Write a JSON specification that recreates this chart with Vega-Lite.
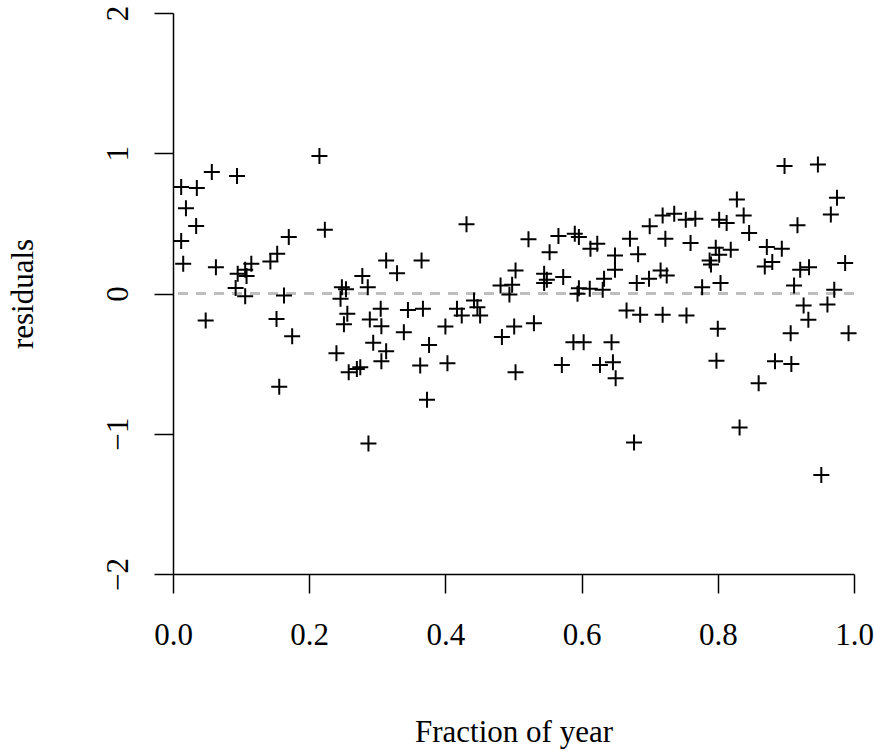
{
  "$schema": "https://vega.github.io/schema/vega-lite/v6.json",
  "width": 681,
  "height": 561,
  "autosize": {"type": "none"},
  "padding": {"left": 173, "top": 13, "right": 20, "bottom": 177},
  "background": "white",
  "config": {
    "view": {"stroke": null},
    "axis": {
      "grid": false,
      "domainColor": "black",
      "domainWidth": 1.5,
      "tickColor": "black",
      "tickWidth": 1.5,
      "tickSize": 19,
      "labelFont": "Liberation Serif",
      "labelFontSize": 31,
      "labelColor": "black",
      "titleFont": "Liberation Serif",
      "titleFontSize": 31,
      "titleFontWeight": "normal",
      "titleColor": "black"
    }
  },
  "data": {
    "values": [
      {"frac": 0.215, "res": 0.98}, {"frac": 0.057, "res": 0.867}, {"frac": 0.094, "res": 0.838},
      {"frac": 0.012, "res": 0.76}, {"frac": 0.035, "res": 0.752}, {"frac": 0.019, "res": 0.607},
      {"frac": 0.034, "res": 0.481}, {"frac": 0.223, "res": 0.455}, {"frac": 0.012, "res": 0.374},
      {"frac": 0.170, "res": 0.402}, {"frac": 0.153, "res": 0.283}, {"frac": 0.143, "res": 0.229},
      {"frac": 0.015, "res": 0.212}, {"frac": 0.063, "res": 0.188}, {"frac": 0.115, "res": 0.212},
      {"frac": 0.095, "res": 0.14}, {"frac": 0.108, "res": 0.124}, {"frac": 0.106, "res": 0.169},
      {"frac": 0.092, "res": 0.04}, {"frac": 0.106, "res": -0.019}, {"frac": 0.163, "res": -0.014},
      {"frac": 0.248, "res": 0.045}, {"frac": 0.246, "res": -0.038}, {"frac": 0.254, "res": 0.03},
      {"frac": 0.048, "res": -0.193}, {"frac": 0.152, "res": -0.181}, {"frac": 0.256, "res": -0.145},
      {"frac": 0.251, "res": -0.219}, {"frac": 0.175, "res": -0.305}, {"frac": 0.240, "res": -0.426},
      {"frac": 0.258, "res": -0.562}, {"frac": 0.156, "res": -0.664}, {"frac": 0.431, "res": 0.493},
      {"frac": 0.313, "res": 0.236}, {"frac": 0.365, "res": 0.236}, {"frac": 0.329, "res": 0.145},
      {"frac": 0.278, "res": 0.124}, {"frac": 0.286, "res": 0.045}, {"frac": 0.503, "res": 0.164},
      {"frac": 0.481, "res": 0.057}, {"frac": 0.498, "res": 0.062}, {"frac": 0.494, "res": -0.008},
      {"frac": 0.442, "res": -0.05}, {"frac": 0.417, "res": -0.109}, {"frac": 0.447, "res": -0.098},
      {"frac": 0.424, "res": -0.157}, {"frac": 0.451, "res": -0.157}, {"frac": 0.305, "res": -0.109},
      {"frac": 0.345, "res": -0.117}, {"frac": 0.367, "res": -0.109}, {"frac": 0.289, "res": -0.186},
      {"frac": 0.306, "res": -0.233}, {"frac": 0.339, "res": -0.276}, {"frac": 0.400, "res": -0.236},
      {"frac": 0.501, "res": -0.236}, {"frac": 0.483, "res": -0.31}, {"frac": 0.294, "res": -0.352},
      {"frac": 0.313, "res": -0.412}, {"frac": 0.376, "res": -0.367}, {"frac": 0.306, "res": -0.483},
      {"frac": 0.363, "res": -0.514}, {"frac": 0.403, "res": -0.498}, {"frac": 0.270, "res": -0.538},
      {"frac": 0.275, "res": -0.526}, {"frac": 0.503, "res": -0.562}, {"frac": 0.373, "res": -0.757},
      {"frac": 0.287, "res": -1.07}, {"frac": 0.719, "res": 0.557}, {"frac": 0.736, "res": 0.569},
      {"frac": 0.700, "res": 0.479}, {"frac": 0.522, "res": 0.386}, {"frac": 0.566, "res": 0.41},
      {"frac": 0.590, "res": 0.426}, {"frac": 0.596, "res": 0.402}, {"frac": 0.623, "res": 0.355},
      {"frac": 0.613, "res": 0.319}, {"frac": 0.671, "res": 0.39}, {"frac": 0.723, "res": 0.39},
      {"frac": 0.553, "res": 0.295}, {"frac": 0.649, "res": 0.271}, {"frac": 0.683, "res": 0.279},
      {"frac": 0.649, "res": 0.169}, {"frac": 0.545, "res": 0.14}, {"frac": 0.573, "res": 0.117},
      {"frac": 0.549, "res": 0.098}, {"frac": 0.545, "res": 0.074}, {"frac": 0.716, "res": 0.164},
      {"frac": 0.725, "res": 0.129}, {"frac": 0.699, "res": 0.105}, {"frac": 0.681, "res": 0.074},
      {"frac": 0.633, "res": 0.105}, {"frac": 0.596, "res": 0.038}, {"frac": 0.594, "res": -0.002},
      {"frac": 0.612, "res": 0.033}, {"frac": 0.631, "res": 0.026}, {"frac": 0.666, "res": -0.121},
      {"frac": 0.686, "res": -0.152}, {"frac": 0.719, "res": -0.152}, {"frac": 0.530, "res": -0.212},
      {"frac": 0.588, "res": -0.348}, {"frac": 0.603, "res": -0.348}, {"frac": 0.644, "res": -0.348},
      {"frac": 0.571, "res": -0.51}, {"frac": 0.627, "res": -0.51}, {"frac": 0.646, "res": -0.491},
      {"frac": 0.650, "res": -0.605}, {"frac": 0.677, "res": -1.062}, {"frac": 0.898, "res": 0.909},
      {"frac": 0.947, "res": 0.919}, {"frac": 0.828, "res": 0.671}, {"frac": 0.975, "res": 0.683},
      {"frac": 0.753, "res": 0.526}, {"frac": 0.767, "res": 0.533}, {"frac": 0.802, "res": 0.526},
      {"frac": 0.813, "res": 0.502}, {"frac": 0.838, "res": 0.557}, {"frac": 0.966, "res": 0.564},
      {"frac": 0.917, "res": 0.486}, {"frac": 0.846, "res": 0.431}, {"frac": 0.760, "res": 0.36},
      {"frac": 0.797, "res": 0.326}, {"frac": 0.819, "res": 0.312}, {"frac": 0.872, "res": 0.331},
      {"frac": 0.894, "res": 0.319}, {"frac": 0.802, "res": 0.276}, {"frac": 0.788, "res": 0.236},
      {"frac": 0.790, "res": 0.207}, {"frac": 0.880, "res": 0.224}, {"frac": 0.869, "res": 0.193},
      {"frac": 0.987, "res": 0.217}, {"frac": 0.921, "res": 0.169}, {"frac": 0.934, "res": 0.188},
      {"frac": 0.804, "res": 0.074}, {"frac": 0.777, "res": 0.045}, {"frac": 0.912, "res": 0.057},
      {"frac": 0.971, "res": 0.026}, {"frac": 0.926, "res": -0.086}, {"frac": 0.961, "res": -0.079},
      {"frac": 0.933, "res": -0.188}, {"frac": 0.754, "res": -0.157}, {"frac": 0.800, "res": -0.252},
      {"frac": 0.907, "res": -0.283}, {"frac": 0.992, "res": -0.283}, {"frac": 0.798, "res": -0.479},
      {"frac": 0.884, "res": -0.483}, {"frac": 0.908, "res": -0.502}, {"frac": 0.860, "res": -0.64},
      {"frac": 0.832, "res": -0.955}, {"frac": 0.952, "res": -1.295}
    ]
  },
  "layer": [
    {
      "mark": {"type": "rule", "color": "#bebebe", "strokeWidth": 2, "strokeDash": [10, 8]},
      "encoding": {"y": {"datum": 0, "type": "quantitative", "scale": {"domain": [-2, 2]}}}
    },
    {
      "mark": {
        "type": "point",
        "shape": "M-1,0L1,0M0,-1L0,1",
        "filled": false,
        "stroke": "black",
        "strokeWidth": 2,
        "size": 256,
        "opacity": 1
      },
      "encoding": {
        "x": {
          "field": "frac",
          "type": "quantitative",
          "scale": {"domain": [0, 1], "nice": false, "zero": false},
          "axis": {
            "title": "Fraction of year",
            "values": [0, 0.2, 0.4, 0.6, 0.8, 1.0],
            "format": ".1f",
            "labelPadding": 27,
            "titlePadding": 67,
            "labelFlush": false
          }
        },
        "y": {
          "field": "res",
          "type": "quantitative",
          "scale": {"domain": [-2, 2], "nice": false, "zero": false},
          "axis": {
            "title": "residuals",
            "values": [-2, -1, 0, 1, 2],
            "format": "d",
            "labelAngle": -90,
            "labelAlign": "center",
            "labelBaseline": "bottom",
            "labelPadding": 20,
            "titlePadding": 63,
            "labelFlush": false
          }
        }
      }
    }
  ]
}
